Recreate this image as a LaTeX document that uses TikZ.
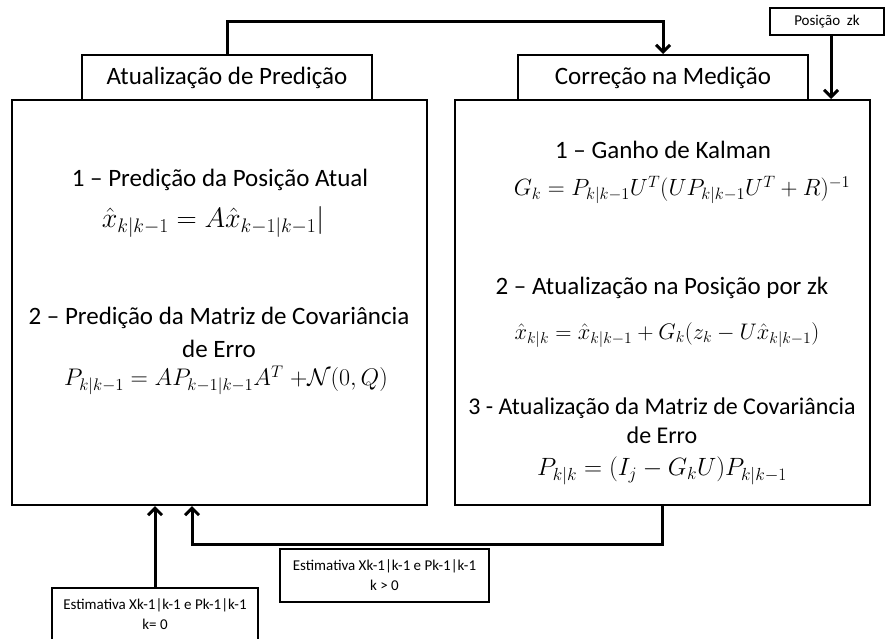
\RequirePackage{fix-cm}
\documentclass[tikz,border=0pt]{standalone}
\usepackage{amsmath}
\usepackage{fontspec}
\setmainfont{Carlito}
\usetikzlibrary{arrows.meta}
\begin{document}
\begin{tikzpicture}[x=1pt,y=-1pt,
  frame/.style={draw, line width=2pt, inner sep=0pt},
  title/.style={frame, font=\fontsize{25}{30}\selectfont},
  tag/.style={frame, font=\fontsize{15}{20}\selectfont, align=center},
  txt/.style={inner sep=0pt, font=\fontsize{25}{30}\selectfont},
  txtsm/.style={inner sep=0pt, font=\fontsize{24}{29}\selectfont},
  eq/.style={inner sep=0pt, font=\fontsize{#1}{#1}\selectfont},
  conn/.style={line width=3pt, -{Straight Barb[length=7pt,width=14pt,line width=3pt]}}]
\useasboundingbox (0,0) rectangle (885,639);

% main blocks
\node[frame, minimum width=415pt, minimum height=405pt] (lb) at (219.5,302.5) {};
\node[frame, minimum width=415pt, minimum height=405pt] (rb) at (662.5,302.5) {};
\node[title, minimum width=290pt, minimum height=45pt] (lt) at (227,77.5) {Atualização de Predição};
\node[title, minimum width=290pt, minimum height=45pt] (rt) at (663,77.5) {Correção na Medição};

% inputs
\node[tag, minimum width=114pt, minimum height=27pt] (pz) at (827,21.5) {Posição~ zk};
\node[tag, minimum width=209pt, minimum height=53pt] (kp) at (384.5,575.5) {Estimativa Xk-1|k-1 e Pk-1|k-1\\k > 0};
\node[tag, minimum width=206pt, minimum height=53pt] (kz) at (155,614.5) {Estimativa Xk-1|k-1 e Pk-1|k-1\\k= 0};

% prediction steps
\node[txt] (l1) at (220,180) {1 – Predição da Posição Atual};
\node[eq=28] (le1) at (213,222) {$\hat{x}_{k|k-1} = A\hat{x}_{k-1|k-1}|$};
\node[txt] (l2) at (219,318) {2 – Predição da Matriz de Covariância};
\node[txt] (l3) at (219,349) {de Erro};
\node[eq=24] (le2) at (226,380) {$P_{k|k-1} = AP_{k-1|k-1}A^T\;{+}\mathcal{N}(0,Q)$};

% correction steps
\node[txt] (r1) at (663,150) {1 – Ganho de Kalman};
\node[eq=23.5] (re1) at (682,190) {$G_k = P_{k|k-1}U^T(UP_{k|k-1}U^T+R)^{-1}$};
\node[txt] (r2) at (662,288) {2 – Atualização na Posição por zk};
\node[eq=22.5] (re2) at (667,335) {$\hat{x}_{k|k} = \hat{x}_{k|k-1} + G_k(z_k - U\hat{x}_{k|k-1})$};
\node[txtsm] (r3) at (662,408) {3 - Atualização da Matriz de Covariância};
\node[txtsm] (r4) at (662,435) {de Erro};
\node[eq=25] (re3) at (662,471) {$P_{k|k} = (I_j - G_kU)P_{k|k-1}$};

% connectors
\coordinate (topbend) at (445,22);
\coordinate (loopbend) at (192,544);
\draw[conn] (lt.north) |- (topbend) -| (rt.north);
\draw[conn] ([xshift=4pt]pz.south) -- ([xshift=4pt]pz.south |- rb.north);
\draw[conn] (rb.south) |- (loopbend) -- (loopbend |- lb.south);
\draw[conn] (kz.north) -- (kz.north |- lb.south);
\end{tikzpicture}
\end{document}
